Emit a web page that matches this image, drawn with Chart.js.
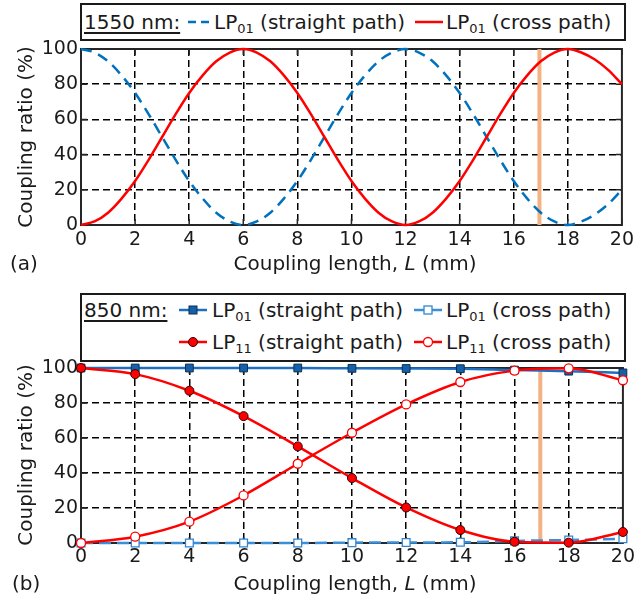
<!DOCTYPE html>
<html>
<head>
<meta charset="utf-8">
<script src="https://cdn.jsdelivr.net/npm/chart.js@4.4.0/dist/chart.umd.min.js"></script>
<style>
  html, body { margin: 0; padding: 0; background: #fff; }
  body { width: 638px; height: 601px; position: relative; overflow: hidden;
         font-family: "DejaVu Sans", Verdana, sans-serif; color: #1a1a1a; }
  canvas { position: absolute; left: 0; }
  .box { position: absolute; border: 2px solid #1a1a1a; box-sizing: border-box; background: #fff; }
  .txt { position: absolute; font-size: 20px; line-height: 24px; white-space: nowrap; }
  .txt sub { font-size: 13px; vertical-align: -4px; line-height: 0; }
  .u { text-decoration: underline; text-underline-offset: 3px; text-decoration-thickness: 1.5px; }
  .sample { position: absolute; }
  .ytitle { position: absolute; font-size: 20px; line-height: 24px; white-space: nowrap;
            transform: translate(-50%, -50%) rotate(-90deg); }
  .xtitle { position: absolute; font-size: 20px; line-height: 24px; white-space: nowrap;
            transform: translate(-50%, -50%); }
</style>
</head>
<body>
<canvas id="chartA" width="638" height="290" style="top:0"></canvas>
<canvas id="chartB" width="638" height="311" style="top:290px"></canvas>

<!-- 1550 nm legend -->
<div class="box" style="left:80px; top:3px; width:546px; height:38px;"></div>
<div class="txt u" style="left:84px; top:10px;">1550 nm:</div>
<svg class="sample" style="left:187px; top:14px;" width="24" height="16">
  <line x1="1" y1="8" x2="23" y2="8" stroke="#0072BD" stroke-width="2.5" stroke-dasharray="8,5"/>
</svg>
<div class="txt" style="left:214px; top:10px;">LP<sub>01</sub> (straight path)</div>
<svg class="sample" style="left:415px; top:14px;" width="28" height="16">
  <line x1="0" y1="8" x2="28" y2="8" stroke="#ff0000" stroke-width="2.5"/>
</svg>
<div class="txt" style="left:446px; top:10px;">LP<sub>01</sub> (cross path)</div>

<!-- 850 nm legend -->
<div class="box" style="left:80px; top:293px; width:546px; height:69px;"></div>
<div class="txt u" style="left:84px; top:298px;">850 nm:</div>
<svg class="sample" style="left:179px; top:302px;" width="28" height="16">
  <line x1="0" y1="8" x2="28" y2="8" stroke="#1f6fbf" stroke-width="2.5"/>
  <rect x="10" y="4" width="8" height="8" fill="#1660aa" stroke="#0b2f55" stroke-width="1"/>
</svg>
<div class="txt" style="left:212px; top:298px;">LP<sub>01</sub> (straight path)</div>
<svg class="sample" style="left:414px; top:302px;" width="28" height="16">
  <line x1="0" y1="8" x2="28" y2="8" stroke="#3a90d8" stroke-width="2.5"/>
  <rect x="10" y="4" width="8" height="8" fill="#fff" stroke="#2f86d2" stroke-width="1.3"/>
</svg>
<div class="txt" style="left:446px; top:298px;">LP<sub>01</sub> (cross path)</div>
<svg class="sample" style="left:179px; top:334px;" width="28" height="16">
  <line x1="0" y1="8" x2="28" y2="8" stroke="#ff0000" stroke-width="2.5"/>
  <circle cx="14" cy="8" r="4.5" fill="#ff0000" stroke="#300" stroke-width="1"/>
</svg>
<div class="txt" style="left:212px; top:330px;">LP<sub>11</sub> (straight path)</div>
<svg class="sample" style="left:414px; top:334px;" width="28" height="16">
  <line x1="0" y1="8" x2="28" y2="8" stroke="#ff0000" stroke-width="2.5"/>
  <circle cx="14" cy="8" r="4.5" fill="#fff" stroke="#ff0000" stroke-width="1.3"/>
</svg>
<div class="txt" style="left:446px; top:330px;">LP<sub>11</sub> (cross path)</div>

<!-- axis titles and panel tags -->
<div class="ytitle" style="left:25px; top:137px;">Coupling ratio (%)</div>
<div class="xtitle" style="left:355px; top:263px;">Coupling length, <i>L</i> (mm)</div>
<div class="txt" style="left:10px; top:251px;">(a)</div>
<div class="ytitle" style="left:25px; top:455px;">Coupling ratio (%)</div>
<div class="xtitle" style="left:355px; top:583px;">Coupling length, <i>L</i> (mm)</div>
<div class="txt" style="left:12px; top:571px;">(b)</div>

<script>
// ---- 1550 nm: power split along the coupler (sampled every 0.5 mm) ----
const lengthFine = [0, 0.5, 1, 1.5, 2, 2.5, 3, 3.5, 4, 4.5, 5, 5.5, 6, 6.5, 7, 7.5, 8, 8.5, 9, 9.5, 10,
  10.5, 11, 11.5, 12, 12.5, 13, 13.5, 14, 14.5, 15, 15.5, 16, 16.5, 17, 17.5, 18, 18.5, 19, 19.5, 20];
const straight1550 = [100, 98, 93, 85, 75, 63, 50, 37, 25, 15, 7, 2, 0, 2, 7, 15, 25, 37, 50, 63, 75,
  85, 93, 98, 100, 98, 93, 85, 75, 63, 50, 37, 25, 15, 7, 2, 0, 2, 6, 12, 20];
const cross1550 = [0, 2, 7, 15, 25, 37, 50, 63, 75, 85, 93, 98, 100, 98, 93, 85, 75, 63, 50, 37, 25,
  15, 7, 2, 0, 2, 7, 15, 25, 37, 50, 63, 75, 85, 93, 98, 100, 98, 94, 88, 80];

// ---- 850 nm: measured points every 2 mm ----
const lengthCoarse = [0, 2, 4, 6, 8, 10, 12, 14, 16, 18, 20];
const lp01Straight = [100, 100, 100, 100, 100, 99.8, 99.7, 99.6, 98.8, 98.2, 97.2];
const lp01Cross = [0, 0, 0, 0, 0, 0.2, 0.3, 0.4, 1.2, 1.7, 2.4];
const lp11Straight = [100, 96.5, 87, 72.5, 55.2, 37.1, 20.3, 7.4, 0.7, 0.2, 6.3];
const lp11Cross = [0, 3.6, 12.2, 27.2, 45.3, 63, 79.2, 92, 98.5, 99.8, 93];

// chosen coupler length (vertical marker)
const markerLength = 16.95;

const xTicks = [0, 2, 4, 6, 8, 10, 12, 14, 16, 18, 20];
const yTicks = [0, 20, 40, 60, 80, 100];

const FONT = '"DejaVu Sans", Verdana, sans-serif';
const pts = (xs, ys) => xs.map((x, i) => ({ x, y: ys[i] }));

// box around the plot area with short inward tick marks on every side
const frame = {
  id: 'frame',
  beforeDatasetsDraw(chart) {
    const { ctx, chartArea: { left, right, top, bottom }, scales: { x, y } } = chart;
    ctx.save();
    ctx.strokeStyle = '#262626';
    ctx.lineWidth = 1.5;
    ctx.beginPath();
    x.ticks.forEach(t => {
      const p = x.getPixelForValue(t.value);
      ctx.moveTo(p, top); ctx.lineTo(p, top + 6);
      ctx.moveTo(p, bottom); ctx.lineTo(p, bottom - 6);
    });
    y.ticks.forEach(t => {
      const p = y.getPixelForValue(t.value);
      ctx.moveTo(left, p); ctx.lineTo(left + 6, p);
      ctx.moveTo(right, p); ctx.lineTo(right - 6, p);
    });
    ctx.stroke();
    ctx.lineWidth = 2;
    ctx.strokeRect(left, top, right - left, bottom - top);
    ctx.restore();
  }
};

function gridColor(edgeValues) {
  return c => (c.tick && edgeValues.includes(c.tick.value)) ? 'rgba(0,0,0,0)' : '#000';
}

function buildOptions(plotTop, xAxisHeight, xPad) {
  return {
    responsive: false,
    animation: false,
    devicePixelRatio: 1,
    layout: { padding: { top: plotTop, right: 12, left: 0, bottom: 0 } },
    plugins: { legend: { display: false }, tooltip: { enabled: false } },
    elements: { line: { cubicInterpolationMode: 'monotone' } },
    scales: {
      x: {
        type: 'linear', min: 0, max: 20,
        afterFit(s) { s.height = xAxisHeight; },
        afterBuildTicks(s) { s.ticks = xTicks.map(v => ({ value: v })); },
        ticks: { color: '#1a1a1a', font: { family: FONT, size: 19 }, padding: xPad, maxRotation: 0, autoSkip: false },
        grid: { color: gridColor([0, 20]), lineWidth: 1.5, drawTicks: false },
        border: { display: false, dash: [7, 4] }
      },
      y: {
        type: 'linear', min: 0, max: 100,
        afterFit(s) { s.width = 81; },
        afterBuildTicks(s) { s.ticks = yTicks.map(v => ({ value: v })); },
        ticks: { color: '#1a1a1a', font: { family: FONT, size: 19 }, padding: 3 },
        grid: { color: gridColor([0, 100]), lineWidth: 1.5, drawTicks: false },
        border: { display: false, dash: [7, 4] }
      }
    }
  };
}

const markerSet = {
  data: [{ x: markerLength, y: 0 }, { x: markerLength, y: 100 }],
  borderColor: '#F4B183', borderWidth: 4, pointRadius: 0, clip: false
};

new Chart(document.getElementById('chartA'), {
  type: 'line',
  data: {
    datasets: [
      { label: 'LP01 (cross path)', data: pts(lengthFine, cross1550),
        borderColor: '#ff0000', borderWidth: 2.5, pointRadius: 0, clip: false },
      { label: 'LP01 (straight path)', data: pts(lengthFine, straight1550),
        borderColor: '#0072BD', borderWidth: 2.5, borderDash: [11, 7], pointRadius: 0, clip: false },
      Object.assign({ label: 'L' }, markerSet)
    ]
  },
  options: buildOptions(49, 65, 4),
  plugins: [frame]
});

new Chart(document.getElementById('chartB'), {
  type: 'line',
  data: {
    datasets: [
      { label: 'LP11 (straight path)', data: pts(lengthCoarse, lp11Straight),
        borderColor: '#ff0000', borderWidth: 2.5, pointStyle: 'circle', pointRadius: 4.5,
        pointBackgroundColor: '#ff0000', pointBorderColor: '#300', pointBorderWidth: 1, clip: false },
      { label: 'LP11 (cross path)', data: pts(lengthCoarse, lp11Cross),
        borderColor: '#ff0000', borderWidth: 2.5, pointStyle: 'circle', pointRadius: 4.5,
        pointBackgroundColor: '#fff', pointBorderColor: '#ff0000', pointBorderWidth: 1.3, clip: false },
      { label: 'LP01 (straight path)', data: pts(lengthCoarse, lp01Straight),
        borderColor: '#1f6fbf', borderWidth: 2.5, pointStyle: 'rect', pointRadius: 5.5,
        pointBackgroundColor: '#1660aa', pointBorderColor: '#0b2f55', pointBorderWidth: 1, clip: false },
      { label: 'LP01 (cross path)', data: pts(lengthCoarse, lp01Cross),
        borderColor: '#3a90d8', borderWidth: 2.5, borderDash: [12, 6], pointStyle: 'rect', pointRadius: 5.5,
        pointBackgroundColor: '#fff', pointBorderColor: '#2f86d2', pointBorderWidth: 1.3, clip: false },
      Object.assign({ label: 'L' }, markerSet)
    ]
  },
  options: buildOptions(78, 58, 3),
  plugins: [frame]
});
</script>
</body>
</html>
